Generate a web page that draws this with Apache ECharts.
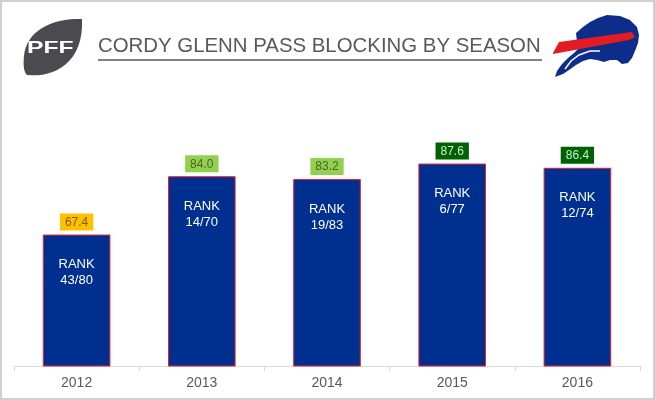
<!DOCTYPE html>
<html><head><meta charset="utf-8">
<script src="https://cdn.jsdelivr.net/npm/echarts@6/dist/echarts.min.js"></script>
<style>html,body{margin:0;padding:0;background:#fff}#c{width:655px;height:400px}</style>
</head><body><div id="c"></div>
<script>
const seasons = ['2012','2013','2014','2015','2016'];
const grades = [67.4, 84.0, 83.2, 87.6, 86.4];
const ranks = ['43/80','14/70','19/83','6/77','12/74'];

function gradeBg(v){ return v >= 85 ? '#006100' : (v >= 80 ? '#92D050' : '#FFC000'); }
function gradeFg(v){ return v >= 85 ? '#C6EFCE' : (v >= 80 ? '#4F6228' : '#7F6000'); }

// sample cubic bezier segments into polygon points (decorative logo shapes)
function bez(segs){
  const pts = [];
  segs.forEach(s => {
    const [p0,p1,p2,p3] = s;
    for (let i = 0; i <= 16; i++) {
      const t = i/16, u = 1-t;
      pts.push([
        u*u*u*p0[0] + 3*u*u*t*p1[0] + 3*u*t*t*p2[0] + t*t*t*p3[0],
        u*u*u*p0[1] + 3*u*u*t*p1[1] + 3*u*t*t*p2[1] + t*t*t*p3[1]
      ]);
    }
  });
  return pts;
}

const ball = bez([
  [[82,19],[50,18],[26,32],[24,56]],
  [[24,56],[23,66],[24,72],[27,75]],
  [[27,75],[55,78],[84,62],[82,19]]
]);
const buffalo = [[576,33],[583,27],[590,22],[598,18],[607,15],[620,16],[630,20],[637,27],[639,35],[638,43],[635,51],[632,58],[628,63],[622,64],[617,60],[610,60],[604,62],[597,60],[590,59],[583,61],[576,65],[569,70],[563,74],[555,77],[557,71],[562,64],[568,58],[574,53],[579,48],[577,42]];
const stripe = [[553,53],[559,42],[632,32],[635,37],[629,40],[553,54]];
const legLine = [[565,69],[571,61],[579,55],[590,51],[600,51]];

const chart = echarts.init(document.getElementById('c'));
chart.setOption({
  animation: false,
  grid: {left: 14, right: 15, top: 120, bottom: 34},
  xAxis: {
    type: 'category', data: seasons,
    axisLine: {lineStyle: {color: '#d9d9d9'}},
    axisTick: {show: true, length: 5, lineStyle: {color: '#d9d9d9'}},
    axisLabel: {color: '#595959', fontSize: 14, margin: 10, fontFamily: 'Liberation Sans'}
  },
  yAxis: {type: 'value', min: 30, max: 100, show: false, splitLine: {show: false}},
  series: [
    {
      type: 'bar', barWidth: '54%',
      data: grades,
      itemStyle: {color: '#00308F', borderColor: '#E8202A', borderWidth: 1},
      label: {
        show: true, position: 'insideTop', distance: 22,
        formatter: p => 'RANK\n' + ranks[p.dataIndex],
        color: '#fff', fontSize: 13, lineHeight: 16, fontFamily: 'Liberation Sans'
      }
    },
    {
      type: 'bar', barWidth: '54%', barGap: '-100%', silent: true,
      data: grades.map(v => ({
        value: v,
        label: {backgroundColor: gradeBg(v), color: gradeFg(v)}
      })),
      itemStyle: {color: 'rgba(0,0,0,0)'},
      label: {
        show: true, position: 'top', distance: 4,
        formatter: p => p.value.toFixed(1),
        fontSize: 12, padding: [3, 5, 2, 5], fontFamily: 'Liberation Sans'
      }
    }
  ],
  graphic: [
    {type: 'rect', shape: {x: 1, y: 1, width: 653, height: 398}, style: {fill: 'none', stroke: '#d0d0d0', lineWidth: 2}, silent: true},
    {type: 'text', x: 98, y: 36, style: {text: 'CORDY GLENN PASS BLOCKING BY SEASON', fill: '#595959', fontSize: 20.4, fontFamily: 'Liberation Sans'}},
    {type: 'rect', shape: {x: 98, y: 59, width: 444, height: 2}, style: {fill: '#808080'}},
    {type: 'polygon', shape: {points: ball}, style: {fill: '#4a4a50'}},
    {type: 'text', x: 27, y: 40, scaleX: 1.45, style: {text: 'PFF', fill: '#fff', fontSize: 17, fontWeight: 'bold', fontFamily: 'Liberation Sans'}},
    {type: 'polygon', shape: {points: buffalo}, style: {fill: '#0C2E8A'}},
    {type: 'polyline', shape: {points: legLine}, style: {stroke: '#fff', lineWidth: 1.5, fill: 'none'}},
    {type: 'polygon', shape: {points: stripe}, style: {fill: '#E31B23'}}
  ]
});
</script>
</body></html>
